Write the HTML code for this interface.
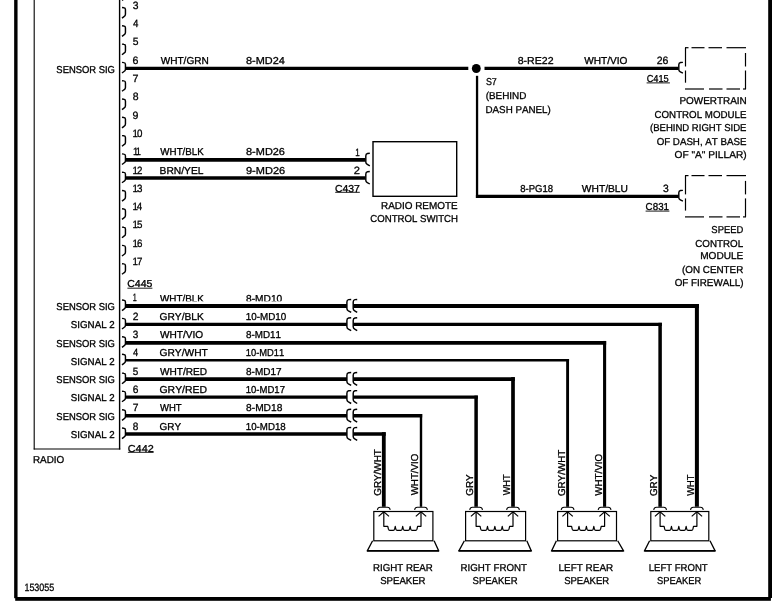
<!DOCTYPE html>
<html><head><meta charset="utf-8"><title>Radio wiring diagram</title>
<style>
html,body{margin:0;padding:0;background:#fff;}
body{width:772px;height:610px;overflow:hidden;}
svg{display:block;filter:grayscale(1);}
text{font-family:"Liberation Sans",sans-serif;fill:#000;stroke:#000;stroke-width:0.3px;stroke-linejoin:round;font-kerning:none;text-rendering:geometricPrecision;}
</style></head>
<body>
<svg width="772" height="610" viewBox="0 0 772 610" stroke="#000" fill="#000">
<defs><clipPath id="c1"><rect x="150" y="290" width="160" height="11.3"/></clipPath></defs>
<rect x="0" y="0" width="772" height="610" fill="#fff" stroke="none"/>
<rect x="14.15" y="-5" width="3.4" height="603.2" fill="#000" stroke="none"/>
<rect x="15.2" y="597.0" width="755.7" height="3.8" fill="#000" stroke="none"/>
<rect x="768.2" y="-5" width="4.4" height="603.0" fill="#000" stroke="none"/>
<line x1="34.20" y1="-5.00" x2="34.20" y2="449.50" stroke-width="1.1" stroke-linecap="butt"/>
<line x1="119.60" y1="-5.00" x2="119.60" y2="449.50" stroke-width="1.4" stroke-linecap="butt"/>
<line x1="33.70" y1="449.00" x2="120.30" y2="449.00" stroke-width="1.1" stroke-linecap="butt"/>
<path d="M122.0,-10.20 L123.85,-10.00 Q125.45,-9.90 125.45,-8.20 L125.45,-3.40 Q125.45,-2.00 123.95,-1.10 L122.0,0.40" stroke-width="1.45" fill="none" />
<path d="M122.0,7.50 L123.85,7.70 Q125.45,7.80 125.45,9.50 L125.45,14.30 Q125.45,15.70 123.95,16.60 L122.0,18.10" stroke-width="1.45" fill="none" />
<path d="M122.0,25.80 L123.85,26.00 Q125.45,26.10 125.45,27.80 L125.45,32.60 Q125.45,34.00 123.95,34.90 L122.0,36.40" stroke-width="1.45" fill="none" />
<path d="M122.0,44.10 L123.85,44.30 Q125.45,44.40 125.45,46.10 L125.45,50.90 Q125.45,52.30 123.95,53.20 L122.0,54.70" stroke-width="1.45" fill="none" />
<path d="M122.0,62.40 L123.85,62.60 Q125.45,62.70 125.45,64.40 L125.45,69.20 Q125.45,70.60 123.95,71.50 L122.0,73.00" stroke-width="1.45" fill="none" />
<path d="M122.0,80.70 L123.85,80.90 Q125.45,81.00 125.45,82.70 L125.45,87.50 Q125.45,88.90 123.95,89.80 L122.0,91.30" stroke-width="1.45" fill="none" />
<path d="M122.0,99.00 L123.85,99.20 Q125.45,99.30 125.45,101.00 L125.45,105.80 Q125.45,107.20 123.95,108.10 L122.0,109.60" stroke-width="1.45" fill="none" />
<path d="M122.0,117.30 L123.85,117.50 Q125.45,117.60 125.45,119.30 L125.45,124.10 Q125.45,125.50 123.95,126.40 L122.0,127.90" stroke-width="1.45" fill="none" />
<path d="M122.0,135.60 L123.85,135.80 Q125.45,135.90 125.45,137.60 L125.45,142.40 Q125.45,143.80 123.95,144.70 L122.0,146.20" stroke-width="1.45" fill="none" />
<path d="M122.0,153.90 L123.85,154.10 Q125.45,154.20 125.45,155.90 L125.45,160.70 Q125.45,162.10 123.95,163.00 L122.0,164.50" stroke-width="1.45" fill="none" />
<path d="M122.0,172.20 L123.85,172.40 Q125.45,172.50 125.45,174.20 L125.45,179.00 Q125.45,180.40 123.95,181.30 L122.0,182.80" stroke-width="1.45" fill="none" />
<path d="M122.0,190.50 L123.85,190.70 Q125.45,190.80 125.45,192.50 L125.45,197.30 Q125.45,198.70 123.95,199.60 L122.0,201.10" stroke-width="1.45" fill="none" />
<path d="M122.0,208.80 L123.85,209.00 Q125.45,209.10 125.45,210.80 L125.45,215.60 Q125.45,217.00 123.95,217.90 L122.0,219.40" stroke-width="1.45" fill="none" />
<path d="M122.0,227.10 L123.85,227.30 Q125.45,227.40 125.45,229.10 L125.45,233.90 Q125.45,235.30 123.95,236.20 L122.0,237.70" stroke-width="1.45" fill="none" />
<path d="M122.0,245.40 L123.85,245.60 Q125.45,245.70 125.45,247.40 L125.45,252.20 Q125.45,253.60 123.95,254.50 L122.0,256.00" stroke-width="1.45" fill="none" />
<path d="M122.0,263.70 L123.85,263.90 Q125.45,264.00 125.45,265.70 L125.45,270.50 Q125.45,271.90 123.95,272.80 L122.0,274.30" stroke-width="1.45" fill="none" />
<path d="M122.0,300.00 L123.85,300.20 Q125.45,300.30 125.45,302.00 L125.45,306.80 Q125.45,308.20 123.95,309.10 L122.0,310.60" stroke-width="1.45" fill="none" />
<path d="M122.0,318.40 L123.85,318.60 Q125.45,318.70 125.45,320.40 L125.45,325.20 Q125.45,326.60 123.95,327.50 L122.0,329.00" stroke-width="1.45" fill="none" />
<path d="M122.0,336.80 L123.85,337.00 Q125.45,337.10 125.45,338.80 L125.45,343.60 Q125.45,345.00 123.95,345.90 L122.0,347.40" stroke-width="1.45" fill="none" />
<path d="M122.0,354.30 L123.85,354.50 Q125.45,354.60 125.45,356.30 L125.45,361.10 Q125.45,362.50 123.95,363.40 L122.0,364.90" stroke-width="1.45" fill="none" />
<path d="M122.0,373.10 L123.85,373.30 Q125.45,373.40 125.45,375.10 L125.45,379.90 Q125.45,381.30 123.95,382.20 L122.0,383.70" stroke-width="1.45" fill="none" />
<path d="M122.0,391.20 L123.85,391.40 Q125.45,391.50 125.45,393.20 L125.45,398.00 Q125.45,399.40 123.95,400.30 L122.0,401.80" stroke-width="1.45" fill="none" />
<path d="M122.0,409.80 L123.85,410.00 Q125.45,410.10 125.45,411.80 L125.45,416.60 Q125.45,418.00 123.95,418.90 L122.0,420.40" stroke-width="1.45" fill="none" />
<path d="M122.0,428.00 L123.85,428.20 Q125.45,428.30 125.45,430.00 L125.45,434.80 Q125.45,436.20 123.95,437.10 L122.0,438.60" stroke-width="1.45" fill="none" />
<line x1="125.30" y1="68.40" x2="468.30" y2="68.40" stroke-width="3.4" stroke-linecap="butt"/>
<line x1="484.50" y1="68.40" x2="678.40" y2="68.40" stroke-width="3.4" stroke-linecap="butt"/>
<circle cx="476.3" cy="68.5" r="4.45" fill="#000" stroke="none"/>
<line x1="477.05" y1="75.80" x2="477.05" y2="197.95" stroke-width="2.3" stroke-linecap="butt"/>
<line x1="475.90" y1="196.40" x2="678.60" y2="196.40" stroke-width="3.1" stroke-linecap="butt"/>
<line x1="125.30" y1="159.80" x2="365.40" y2="159.80" stroke-width="3.7" stroke-linecap="butt"/>
<line x1="125.30" y1="178.00" x2="365.40" y2="178.00" stroke-width="3.7" stroke-linecap="butt"/>
<path d="M369.8,153.31 L367.50,153.51 Q365.8,153.83 365.8,155.93 L365.8,162.02 Q365.8,163.49 367.30,164.33 L369.8,165.80" stroke-width="1.45" fill="none" />
<path d="M369.8,171.50 L367.50,171.71 Q365.8,172.03 365.8,174.13 L365.8,180.22 Q365.8,181.69 367.30,182.53 L369.8,184.00" stroke-width="1.45" fill="none" />
<path d="M682.9,62.39 L680.50,62.57 Q678.8,62.84 678.8,64.64 L678.8,69.86 Q678.8,71.12 680.30,71.84 L682.9,73.10" stroke-width="1.45" fill="none" />
<path d="M682.9,190.39 L680.50,190.57 Q678.8,190.84 678.8,192.64 L678.8,197.86 Q678.8,199.12 680.30,199.84 L682.9,201.10" stroke-width="1.45" fill="none" />
<rect x="373.0" y="141.7" width="83.7" height="54.6" fill="none" stroke-width="1.4"/>
<line x1="685.00" y1="47.70" x2="688.50" y2="47.70" stroke-width="1.2" stroke-linecap="butt"/>
<line x1="691.50" y1="47.70" x2="704.50" y2="47.70" stroke-width="1.2" stroke-linecap="butt"/>
<line x1="708.50" y1="47.70" x2="722.00" y2="47.70" stroke-width="1.2" stroke-linecap="butt"/>
<line x1="726.50" y1="47.70" x2="746.00" y2="47.70" stroke-width="1.2" stroke-linecap="butt"/>
<line x1="685.00" y1="89.00" x2="704.00" y2="89.00" stroke-width="1.2" stroke-linecap="butt"/>
<line x1="709.00" y1="89.00" x2="722.50" y2="89.00" stroke-width="1.2" stroke-linecap="butt"/>
<line x1="726.50" y1="89.00" x2="740.00" y2="89.00" stroke-width="1.2" stroke-linecap="butt"/>
<line x1="743.00" y1="89.00" x2="746.00" y2="89.00" stroke-width="1.2" stroke-linecap="butt"/>
<line x1="685.50" y1="47.70" x2="685.50" y2="66.50" stroke-width="1.2" stroke-linecap="butt"/>
<line x1="685.50" y1="70.50" x2="685.50" y2="82.70" stroke-width="1.2" stroke-linecap="butt"/>
<line x1="745.50" y1="53.00" x2="745.50" y2="66.50" stroke-width="1.2" stroke-linecap="butt"/>
<line x1="745.50" y1="70.50" x2="745.50" y2="89.00" stroke-width="1.2" stroke-linecap="butt"/>
<line x1="685.00" y1="175.60" x2="688.50" y2="175.60" stroke-width="1.2" stroke-linecap="butt"/>
<line x1="691.50" y1="175.60" x2="704.50" y2="175.60" stroke-width="1.2" stroke-linecap="butt"/>
<line x1="708.50" y1="175.60" x2="722.00" y2="175.60" stroke-width="1.2" stroke-linecap="butt"/>
<line x1="726.50" y1="175.60" x2="746.00" y2="175.60" stroke-width="1.2" stroke-linecap="butt"/>
<line x1="685.00" y1="216.90" x2="704.00" y2="216.90" stroke-width="1.2" stroke-linecap="butt"/>
<line x1="709.00" y1="216.90" x2="722.50" y2="216.90" stroke-width="1.2" stroke-linecap="butt"/>
<line x1="726.50" y1="216.90" x2="740.00" y2="216.90" stroke-width="1.2" stroke-linecap="butt"/>
<line x1="743.00" y1="216.90" x2="746.00" y2="216.90" stroke-width="1.2" stroke-linecap="butt"/>
<line x1="685.50" y1="175.60" x2="685.50" y2="194.40" stroke-width="1.2" stroke-linecap="butt"/>
<line x1="685.50" y1="198.40" x2="685.50" y2="210.60" stroke-width="1.2" stroke-linecap="butt"/>
<line x1="745.50" y1="180.90" x2="745.50" y2="194.40" stroke-width="1.2" stroke-linecap="butt"/>
<line x1="745.50" y1="198.40" x2="745.50" y2="216.90" stroke-width="1.2" stroke-linecap="butt"/>
<line x1="125.30" y1="306.00" x2="346.90" y2="306.00" stroke-width="3.9" stroke-linecap="butt"/>
<line x1="353.40" y1="306.00" x2="698.90" y2="306.00" stroke-width="3.9" stroke-linecap="butt"/>
<path d="M351.2,299.41 L348.60,299.62 Q346.9,299.95 346.9,302.12 L346.9,308.40 Q346.9,309.92 348.40,310.78 L351.2,312.30" stroke-width="1.45" fill="none" />
<path d="M357.2,299.41 L354.90,299.62 Q353.2,299.95 353.2,302.12 L353.2,308.40 Q353.2,309.92 354.70,310.78 L357.2,312.30" stroke-width="1.45" fill="none" />
<line x1="696.90" y1="304.05" x2="696.90" y2="506.80" stroke-width="4.0" stroke-linecap="butt"/>
<line x1="125.30" y1="324.40" x2="346.90" y2="324.40" stroke-width="3.2" stroke-linecap="butt"/>
<line x1="353.40" y1="324.40" x2="661.85" y2="324.40" stroke-width="3.2" stroke-linecap="butt"/>
<path d="M351.2,317.81 L348.60,318.02 Q346.9,318.35 346.9,320.52 L346.9,326.80 Q346.9,328.32 348.40,329.18 L351.2,330.70" stroke-width="1.45" fill="none" />
<path d="M357.2,317.81 L354.90,318.02 Q353.2,318.35 353.2,320.52 L353.2,326.80 Q353.2,328.32 354.70,329.18 L357.2,330.70" stroke-width="1.45" fill="none" />
<line x1="660.10" y1="322.80" x2="660.10" y2="506.80" stroke-width="3.5" stroke-linecap="butt"/>
<line x1="125.30" y1="342.80" x2="606.15" y2="342.80" stroke-width="3.7" stroke-linecap="butt"/>
<line x1="604.60" y1="340.95" x2="604.60" y2="506.80" stroke-width="3.1" stroke-linecap="butt"/>
<line x1="125.30" y1="360.30" x2="569.05" y2="360.30" stroke-width="2.5" stroke-linecap="butt"/>
<line x1="567.60" y1="359.05" x2="567.60" y2="506.80" stroke-width="2.9" stroke-linecap="butt"/>
<line x1="125.30" y1="379.10" x2="346.90" y2="379.10" stroke-width="3.9" stroke-linecap="butt"/>
<line x1="353.40" y1="379.10" x2="514.85" y2="379.10" stroke-width="3.9" stroke-linecap="butt"/>
<path d="M351.2,372.51 L348.60,372.73 Q346.9,373.05 346.9,375.22 L346.9,381.50 Q346.9,383.02 348.40,383.88 L351.2,385.40" stroke-width="1.45" fill="none" />
<path d="M357.2,372.51 L354.90,372.73 Q353.2,373.05 353.2,375.22 L353.2,381.50 Q353.2,383.02 354.70,383.88 L357.2,385.40" stroke-width="1.45" fill="none" />
<line x1="513.00" y1="377.15" x2="513.00" y2="506.80" stroke-width="3.7" stroke-linecap="butt"/>
<line x1="125.30" y1="397.20" x2="346.90" y2="397.20" stroke-width="3.2" stroke-linecap="butt"/>
<line x1="353.40" y1="397.20" x2="477.85" y2="397.20" stroke-width="3.2" stroke-linecap="butt"/>
<path d="M351.2,390.61 L348.60,390.82 Q346.9,391.15 346.9,393.32 L346.9,399.60 Q346.9,401.12 348.40,401.98 L351.2,403.50" stroke-width="1.45" fill="none" />
<path d="M357.2,390.61 L354.90,390.82 Q353.2,391.15 353.2,393.32 L353.2,399.60 Q353.2,401.12 354.70,401.98 L357.2,403.50" stroke-width="1.45" fill="none" />
<line x1="476.10" y1="395.60" x2="476.10" y2="506.80" stroke-width="3.5" stroke-linecap="butt"/>
<line x1="125.30" y1="415.80" x2="346.90" y2="415.80" stroke-width="3.6" stroke-linecap="butt"/>
<line x1="353.40" y1="415.80" x2="422.20" y2="415.80" stroke-width="3.6" stroke-linecap="butt"/>
<path d="M351.2,409.21 L348.60,409.43 Q346.9,409.75 346.9,411.92 L346.9,418.20 Q346.9,419.72 348.40,420.58 L351.2,422.10" stroke-width="1.45" fill="none" />
<path d="M357.2,409.21 L354.90,409.43 Q353.2,409.75 353.2,411.92 L353.2,418.20 Q353.2,419.72 354.70,420.58 L357.2,422.10" stroke-width="1.45" fill="none" />
<line x1="421.00" y1="414.00" x2="421.00" y2="506.80" stroke-width="2.4" stroke-linecap="butt"/>
<line x1="125.30" y1="434.00" x2="346.90" y2="434.00" stroke-width="3.7" stroke-linecap="butt"/>
<line x1="353.40" y1="434.00" x2="385.70" y2="434.00" stroke-width="3.7" stroke-linecap="butt"/>
<path d="M351.2,427.41 L348.60,427.62 Q346.9,427.95 346.9,430.12 L346.9,436.40 Q346.9,437.92 348.40,438.78 L351.2,440.30" stroke-width="1.45" fill="none" />
<path d="M357.2,427.41 L354.90,427.62 Q353.2,427.95 353.2,430.12 L353.2,436.40 Q353.2,437.92 354.70,438.78 L357.2,440.30" stroke-width="1.45" fill="none" />
<line x1="383.80" y1="432.15" x2="383.80" y2="506.80" stroke-width="3.8" stroke-linecap="butt"/>
<rect x="373.8" y="511.5" width="59.10" height="29.3" fill="none" stroke-width="1.2"/>
<path d="M372.6,540.8 L367.4,550.7 L438.6,550.7 L434.09999999999997,540.8" stroke-width="1.3" fill="none" />
<line x1="367.00" y1="550.90" x2="439.00" y2="550.90" stroke-width="1.7" stroke-linecap="butt"/>
<path d="M377.40000000000003,509.8 Q377.8,507.4 380.2,507.3 L387.40000000000003,507.3 Q389.8,507.4 390.2,509.8" stroke-width="1.1" fill="none" />
<path d="M378.6,516.4 L383.8,511.9 L389.0,516.4" stroke-width="1.2" fill="none" />
<path d="M414.6,509.8 Q415.0,507.4 417.4,507.3 L424.6,507.3 Q427.0,507.4 427.4,509.8" stroke-width="1.1" fill="none" />
<path d="M415.8,516.4 L421.0,511.9 L426.2,516.4" stroke-width="1.2" fill="none" />
<path d="M383.8,512 L383.8,526.3 L387.80,526.3 L388.40,529.2 Q388.70,530.3 389.80,530.3 L393.25,530.3 Q394.35,530.3 394.65,529.2 L395.25,526.3 L395.85,529.2 Q396.15,530.3 397.25,530.3 L400.70,530.3 Q401.80,530.3 402.10,529.2 L402.70,526.3 L403.30,529.2 Q403.60,530.3 404.70,530.3 L408.15,530.3 Q409.25,530.3 409.55,529.2 L410.15,526.3 L410.75,529.2 Q411.05,530.3 412.15,530.3 L415.60,530.3 Q416.70,530.3 417.00,529.2 L417.60,526.3 L421.0,526.3 L421.0,512" stroke-width="1.2" fill="none" stroke-linejoin="round"/>
<rect x="465.6" y="511.5" width="60.00" height="29.3" fill="none" stroke-width="1.2"/>
<path d="M464.40000000000003,540.8 L459.0,550.7 L531.2,550.7 L526.8000000000001,540.8" stroke-width="1.3" fill="none" />
<line x1="458.60" y1="550.90" x2="531.60" y2="550.90" stroke-width="1.7" stroke-linecap="butt"/>
<path d="M469.70000000000005,509.8 Q470.1,507.4 472.5,507.3 L479.70000000000005,507.3 Q482.1,507.4 482.5,509.8" stroke-width="1.1" fill="none" />
<path d="M470.90000000000003,516.4 L476.1,511.9 L481.3,516.4" stroke-width="1.2" fill="none" />
<path d="M506.6,509.8 Q507.0,507.4 509.4,507.3 L516.6,507.3 Q519.0,507.4 519.4,509.8" stroke-width="1.1" fill="none" />
<path d="M507.8,516.4 L513.0,511.9 L518.2,516.4" stroke-width="1.2" fill="none" />
<path d="M476.1,512 L476.1,526.3 L480.10,526.3 L480.70,529.2 Q481.00,530.3 482.10,530.3 L485.48,530.3 Q486.58,530.3 486.88,529.2 L487.48,526.3 L488.08,529.2 Q488.38,530.3 489.48,530.3 L492.85,530.3 Q493.95,530.3 494.25,529.2 L494.85,526.3 L495.45,529.2 Q495.75,530.3 496.85,530.3 L500.23,530.3 Q501.33,530.3 501.62,529.2 L502.23,526.3 L502.83,529.2 Q503.12,530.3 504.23,530.3 L507.60,530.3 Q508.70,530.3 509.00,529.2 L509.60,526.3 L513.0,526.3 L513.0,512" stroke-width="1.2" fill="none" stroke-linejoin="round"/>
<rect x="557.6" y="511.5" width="58.90" height="29.3" fill="none" stroke-width="1.2"/>
<path d="M556.4,540.8 L551.7,550.7 L623.4,550.7 L617.7,540.8" stroke-width="1.3" fill="none" />
<line x1="551.30" y1="550.90" x2="623.80" y2="550.90" stroke-width="1.7" stroke-linecap="butt"/>
<path d="M561.2,509.8 Q561.6,507.4 564.0,507.3 L571.2,507.3 Q573.6,507.4 574.0,509.8" stroke-width="1.1" fill="none" />
<path d="M562.4,516.4 L567.6,511.9 L572.8000000000001,516.4" stroke-width="1.2" fill="none" />
<path d="M598.2,509.8 Q598.6,507.4 601.0,507.3 L608.2,507.3 Q610.6,507.4 611.0,509.8" stroke-width="1.1" fill="none" />
<path d="M599.4,516.4 L604.6,511.9 L609.8000000000001,516.4" stroke-width="1.2" fill="none" />
<path d="M567.6,512 L567.6,526.3 L571.60,526.3 L572.20,529.2 Q572.50,530.3 573.60,530.3 L577.00,530.3 Q578.10,530.3 578.40,529.2 L579.00,526.3 L579.60,529.2 Q579.90,530.3 581.00,530.3 L584.40,530.3 Q585.50,530.3 585.80,529.2 L586.40,526.3 L587.00,529.2 Q587.30,530.3 588.40,530.3 L591.80,530.3 Q592.90,530.3 593.20,529.2 L593.80,526.3 L594.40,529.2 Q594.70,530.3 595.80,530.3 L599.20,530.3 Q600.30,530.3 600.60,529.2 L601.20,526.3 L604.6,526.3 L604.6,512" stroke-width="1.2" fill="none" stroke-linejoin="round"/>
<rect x="650.8" y="511.5" width="58.00" height="29.3" fill="none" stroke-width="1.2"/>
<path d="M649.5999999999999,540.8 L644.6,550.7 L715.0,550.7 L710.0,540.8" stroke-width="1.3" fill="none" />
<line x1="644.20" y1="550.90" x2="715.40" y2="550.90" stroke-width="1.7" stroke-linecap="butt"/>
<path d="M653.7,509.8 Q654.1,507.4 656.5,507.3 L663.7,507.3 Q666.1,507.4 666.5,509.8" stroke-width="1.1" fill="none" />
<path d="M654.9,516.4 L660.1,511.9 L665.3000000000001,516.4" stroke-width="1.2" fill="none" />
<path d="M690.5,509.8 Q690.9,507.4 693.3,507.3 L700.5,507.3 Q702.9,507.4 703.3,509.8" stroke-width="1.1" fill="none" />
<path d="M691.6999999999999,516.4 L696.9,511.9 L702.1,516.4" stroke-width="1.2" fill="none" />
<path d="M660.1,512 L660.1,526.3 L664.10,526.3 L664.70,529.2 Q665.00,530.3 666.10,530.3 L669.45,530.3 Q670.55,530.3 670.85,529.2 L671.45,526.3 L672.05,529.2 Q672.35,530.3 673.45,530.3 L676.80,530.3 Q677.90,530.3 678.20,529.2 L678.80,526.3 L679.40,529.2 Q679.70,530.3 680.80,530.3 L684.15,530.3 Q685.25,530.3 685.55,529.2 L686.15,526.3 L686.75,529.2 Q687.05,530.3 688.15,530.3 L691.50,530.3 Q692.60,530.3 692.90,529.2 L693.50,526.3 L696.9,526.3 L696.9,512" stroke-width="1.2" fill="none" stroke-linejoin="round"/>
<text transform="translate(132.71,8.80) scale(0.9750,1)" font-size="10.6" style="stroke-width:0.28px">3</text>
<text transform="translate(132.88,27.10) scale(0.9174,1)" font-size="10.6" style="stroke-width:0.28px">4</text>
<text transform="translate(132.69,45.40) scale(0.9750,1)" font-size="10.6" style="stroke-width:0.28px">5</text>
<text transform="translate(132.56,63.70) scale(1.0018,1)" font-size="10.6" style="stroke-width:0.28px">6</text>
<text transform="translate(132.55,82.00) scale(1.0169,1)" font-size="10.6" style="stroke-width:0.28px">7</text>
<text transform="translate(132.65,100.30) scale(0.9851,1)" font-size="10.6" style="stroke-width:0.28px">8</text>
<text transform="translate(132.60,118.60) scale(1.0008,1)" font-size="10.6" style="stroke-width:0.28px">9</text>
<text transform="translate(132.56,136.90) scale(0.9200,1)" font-size="10.6" style="stroke-width:0.28px" letter-spacing="-1.11">10</text>
<text transform="translate(132.99,155.20) scale(0.8800,1)" font-size="10.6" style="stroke-width:0.28px" letter-spacing="-2.62">11</text>
<text transform="translate(132.56,173.50) scale(0.9200,1)" font-size="10.6" style="stroke-width:0.28px" letter-spacing="-0.99">12</text>
<text transform="translate(132.56,191.80) scale(0.9200,1)" font-size="10.6" style="stroke-width:0.28px" letter-spacing="-1.06">13</text>
<text transform="translate(132.56,210.10) scale(0.9200,1)" font-size="10.6" style="stroke-width:0.28px" letter-spacing="-1.22">14</text>
<text transform="translate(132.56,228.40) scale(0.9200,1)" font-size="10.6" style="stroke-width:0.28px" letter-spacing="-1.08">15</text>
<text transform="translate(132.56,246.70) scale(0.9200,1)" font-size="10.6" style="stroke-width:0.28px" letter-spacing="-1.06">16</text>
<text transform="translate(132.56,265.00) scale(0.9200,1)" font-size="10.6" style="stroke-width:0.28px" letter-spacing="-0.99">17</text>
<text transform="translate(56.37,72.50) scale(0.9411,1)" font-size="10.01" style="stroke-width:0.32px">SENSOR SIG</text>
<text transform="translate(160.66,63.80) scale(1.0063,1)" font-size="10.02">WHT/GRN</text>
<text transform="translate(246.03,63.80) scale(1.0886,1)" font-size="10.02">8-MD24</text>
<text transform="translate(160.36,155.40) scale(0.9757,1)" font-size="10.02">WHT/BLK</text>
<text transform="translate(246.02,155.40) scale(1.0932,1)" font-size="10.02">8-MD26</text>
<text transform="translate(159.56,173.60) scale(1.0258,1)" font-size="10.02">BRN/YEL</text>
<text transform="translate(245.98,173.50) scale(1.1000,1)" font-size="10.02">9-MD26</text>
<text transform="translate(355.18,155.80) scale(0.7658,1)" font-size="10.6" style="stroke-width:0.28px">1</text>
<text transform="translate(353.74,173.70) scale(1.0561,1)" font-size="10.6" style="stroke-width:0.28px">2</text>
<text transform="translate(334.97,191.50) scale(1.0408,1)" font-size="10.03">C437</text>
<line x1="335.20" y1="192.30" x2="359.80" y2="192.30" stroke-width="0.9" stroke-linecap="butt"/>
<text transform="translate(380.99,209.20) scale(0.9924,1)" font-size="10.0">RADIO REMOTE</text>
<text transform="translate(370.31,222.20) scale(0.9623,1)" font-size="10.0">CONTROL SWITCH</text>
<text transform="translate(517.64,63.70) scale(1.0565,1)" font-size="10.02">8-RE22</text>
<text transform="translate(584.16,63.70) scale(1.0086,1)" font-size="10.02">WHT/VIO</text>
<text transform="translate(656.67,63.70) scale(0.9915,1)" font-size="10.6" style="stroke-width:0.28px">26</text>
<text transform="translate(646.63,82.10) scale(0.9242,1)" font-size="10.03">C415</text>
<line x1="646.60" y1="82.90" x2="669.90" y2="82.90" stroke-width="0.9" stroke-linecap="butt"/>
<text transform="translate(485.90,84.60) scale(0.8870,1)" font-size="10.0">S7</text>
<text transform="translate(485.69,98.80) scale(0.9896,1)" font-size="10.0">(BEHIND</text>
<text transform="translate(485.50,112.50) scale(0.9794,1)" font-size="10.0">DASH PANEL)</text>
<text transform="translate(520.19,191.80) scale(0.9507,1)" font-size="10.02">8-PG18</text>
<text transform="translate(581.85,191.80) scale(1.0232,1)" font-size="10.02">WHT/BLU</text>
<text transform="translate(663.01,191.80) scale(0.9750,1)" font-size="10.6" style="stroke-width:0.28px">3</text>
<text transform="translate(645.60,210.30) scale(0.9792,1)" font-size="10.03">C831</text>
<line x1="645.60" y1="211.10" x2="669.40" y2="211.10" stroke-width="0.9" stroke-linecap="butt"/>
<text transform="translate(679.38,104.00) scale(0.9948,1)" font-size="10.0">POWERTRAIN</text>
<text transform="translate(654.51,117.50) scale(0.9731,1)" font-size="10.0">CONTROL MODULE</text>
<text transform="translate(650.01,130.60) scale(0.9533,1)" font-size="10.0">(BEHIND RIGHT SIDE</text>
<text transform="translate(656.64,144.80) scale(0.9733,1)" font-size="10.0">OF DASH, AT BASE</text>
<text transform="translate(674.52,157.50) scale(1.0156,1)" font-size="10.0">OF &quot;A&quot; PILLAR)</text>
<text transform="translate(711.37,233.40) scale(0.9403,1)" font-size="10.0">SPEED</text>
<text transform="translate(695.30,246.50) scale(0.9781,1)" font-size="10.0">CONTROL</text>
<text transform="translate(700.17,259.30) scale(1.0064,1)" font-size="10.0">MODULE</text>
<text transform="translate(682.09,273.00) scale(0.9830,1)" font-size="10.0">(ON CENTER</text>
<text transform="translate(674.63,286.00) scale(0.9824,1)" font-size="10.0">OF FIREWALL)</text>
<text transform="translate(127.27,287.40) scale(1.0500,1)" font-size="10.03">C445</text>
<line x1="127.40" y1="288.20" x2="152.40" y2="288.20" stroke-width="0.9" stroke-linecap="butt"/>
<text transform="translate(127.75,451.50) scale(1.0843,1)" font-size="10.03">C442</text>
<line x1="127.90" y1="452.30" x2="153.60" y2="452.30" stroke-width="0.9" stroke-linecap="butt"/>
<text transform="translate(32.99,463.10) scale(0.9878,1)" font-size="10.0">RADIO</text>
<text transform="translate(24.42,590.70) scale(0.8441,1)" font-size="10.6" style="stroke-width:0.28px">153055</text>
<text transform="translate(132.75,300.90) scale(0.6783,1)" font-size="10.6" style="stroke-width:0.28px">1</text>
<g clip-path="url(#c1)">
<text transform="translate(159.96,301.60) scale(0.9847,1)" font-size="10.02">WHT/BLK</text>
<text transform="translate(246.06,301.60) scale(1.0169,1)" font-size="10.02">8-MD10</text>
</g>
<text transform="translate(56.37,309.90) scale(0.9395,1)" font-size="10.01" style="stroke-width:0.32px">SENSOR SIG</text>
<text transform="translate(132.68,320.00) scale(0.9733,1)" font-size="10.6" style="stroke-width:0.28px">2</text>
<text transform="translate(159.49,320.00) scale(1.0206,1)" font-size="10.02">GRY/BLK</text>
<text transform="translate(245.75,320.00) scale(0.9836,1)" font-size="10.02">10-MD10</text>
<text transform="translate(70.86,328.20) scale(0.9726,1)" font-size="10.01" style="stroke-width:0.32px">SIGNAL 2</text>
<text transform="translate(132.82,338.40) scale(0.9352,1)" font-size="10.6" style="stroke-width:0.28px">3</text>
<text transform="translate(159.96,338.40) scale(1.0086,1)" font-size="10.02">WHT/VIO</text>
<text transform="translate(246.07,338.40) scale(0.9823,1)" font-size="10.02">8-MD11</text>
<text transform="translate(56.37,346.50) scale(0.9395,1)" font-size="10.01" style="stroke-width:0.32px">SENSOR SIG</text>
<text transform="translate(132.99,355.90) scale(0.8799,1)" font-size="10.6" style="stroke-width:0.28px">4</text>
<text transform="translate(159.49,355.90) scale(1.0220,1)" font-size="10.02">GRY/WHT</text>
<text transform="translate(245.79,355.90) scale(0.9335,1)" font-size="10.02">10-MD11</text>
<text transform="translate(70.86,364.80) scale(0.9726,1)" font-size="10.01" style="stroke-width:0.32px">SIGNAL 2</text>
<text transform="translate(132.80,374.70) scale(0.9352,1)" font-size="10.6" style="stroke-width:0.28px">5</text>
<text transform="translate(159.96,374.70) scale(1.0080,1)" font-size="10.02">WHT/RED</text>
<text transform="translate(246.07,374.70) scale(0.9972,1)" font-size="10.02">8-MD17</text>
<text transform="translate(56.37,383.10) scale(0.9395,1)" font-size="10.01" style="stroke-width:0.32px">SENSOR SIG</text>
<text transform="translate(132.68,392.80) scale(0.9609,1)" font-size="10.6" style="stroke-width:0.28px">6</text>
<text transform="translate(159.47,392.80) scale(1.0432,1)" font-size="10.02">GRY/RED</text>
<text transform="translate(245.77,392.80) scale(0.9514,1)" font-size="10.02">10-MD17</text>
<text transform="translate(70.86,401.40) scale(0.9726,1)" font-size="10.01" style="stroke-width:0.32px">SIGNAL 2</text>
<text transform="translate(132.67,411.40) scale(0.9754,1)" font-size="10.6" style="stroke-width:0.28px">7</text>
<text transform="translate(159.96,411.40) scale(0.9494,1)" font-size="10.02">WHT</text>
<text transform="translate(246.06,411.40) scale(1.0182,1)" font-size="10.02">8-MD18</text>
<text transform="translate(56.37,419.70) scale(0.9395,1)" font-size="10.01" style="stroke-width:0.32px">SENSOR SIG</text>
<text transform="translate(132.76,429.60) scale(0.9449,1)" font-size="10.6" style="stroke-width:0.28px">8</text>
<text transform="translate(159.50,429.60) scale(0.9958,1)" font-size="10.02">GRY</text>
<text transform="translate(245.76,429.60) scale(0.9697,1)" font-size="10.02">10-MD18</text>
<text transform="translate(70.86,438.00) scale(0.9726,1)" font-size="10.01" style="stroke-width:0.32px">SIGNAL 2</text>
<text transform="translate(373.00,571.00) scale(0.9704,1)" font-size="10.0">RIGHT REAR</text>
<text transform="translate(380.16,584.00) scale(0.9606,1)" font-size="10.0">SPEAKER</text>
<text transform="translate(460.60,571.00) scale(0.9706,1)" font-size="10.0">RIGHT FRONT</text>
<text transform="translate(472.57,584.00) scale(0.9520,1)" font-size="10.0">SPEAKER</text>
<text transform="translate(558.59,571.00) scale(0.9921,1)" font-size="10.0">LEFT REAR</text>
<text transform="translate(564.17,584.00) scale(0.9520,1)" font-size="10.0">SPEAKER</text>
<text transform="translate(648.72,571.00) scale(0.9552,1)" font-size="10.0">LEFT FRONT</text>
<text transform="translate(657.07,584.00) scale(0.9369,1)" font-size="10.0">SPEAKER</text>
<text transform="translate(380.60,495.80) rotate(-90) scale(0.9874,1)" font-size="10.0">GRY/WHT</text>
<text transform="translate(418.20,495.34) rotate(-90) scale(0.9751,1)" font-size="10.0">WHT/VIO</text>
<text transform="translate(472.60,495.80) rotate(-90) scale(0.9882,1)" font-size="10.0">GRY</text>
<text transform="translate(510.10,495.34) rotate(-90) scale(0.9202,1)" font-size="10.0">WHT</text>
<text transform="translate(564.90,496.09) rotate(-90) scale(0.9810,1)" font-size="10.0">GRY/WHT</text>
<text transform="translate(601.70,495.64) rotate(-90) scale(0.9751,1)" font-size="10.0">WHT/VIO</text>
<text transform="translate(657.30,496.10) rotate(-90) scale(0.9882,1)" font-size="10.0">GRY</text>
<text transform="translate(693.50,495.64) rotate(-90) scale(0.9202,1)" font-size="10.0">WHT</text>
</svg>
</body></html>
